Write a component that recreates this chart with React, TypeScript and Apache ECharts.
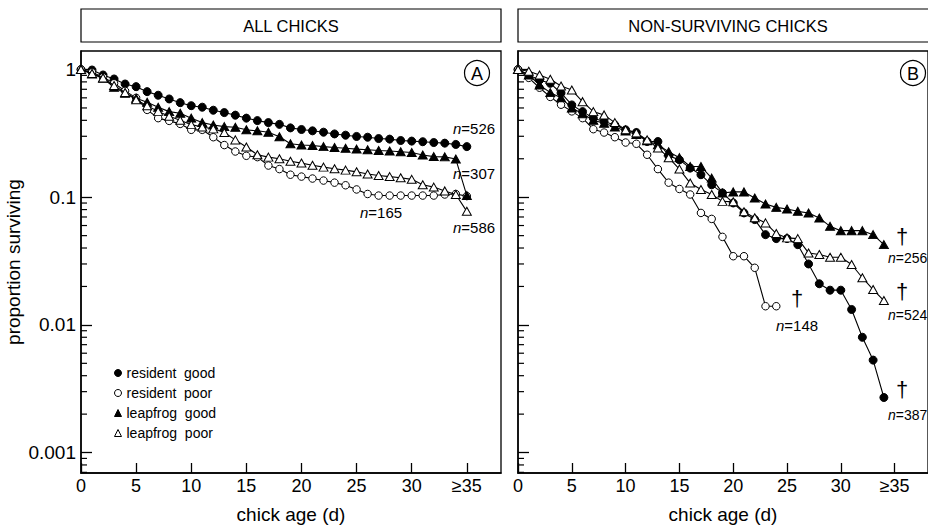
import React, { useEffect, useRef } from 'react';
import * as echarts from 'echarts';

// ---------- data ----------
const days = [0, 1, 2, 3, 4, 5, 6, 7, 8, 9, 10, 11, 12, 13, 14, 15, 16, 17, 18, 19, 20, 21, 22, 23, 24, 25, 26, 27, 28, 29, 30, 31, 32, 33, 34, 35];
const xTickValues = [0, 5, 10, 15, 20, 25, 30, 35];
const xTickLabels = ['0', '5', '10', '15', '20', '25', '30', '≥35'];
const yTickValues = [0.001, 0.01, 0.1, 1];
const yTickLabels = ['0.001', '0.01', '0.1', '1'];
const seriesNames = ['resident  good', 'resident  poor', 'leapfrog  good', 'leapfrog  poor'];

// Panel A: all chicks (proportion surviving, day 0 .. >=35)
const allResidentGood = [1.0, 0.991, 0.906, 0.843, 0.77, 0.734, 0.671, 0.629, 0.588, 0.55, 0.521, 0.507, 0.48, 0.46, 0.439, 0.416, 0.398, 0.384, 0.372, 0.349, 0.339, 0.331, 0.323, 0.313, 0.306, 0.299, 0.295, 0.288, 0.285, 0.278, 0.275, 0.272, 0.268, 0.265, 0.259, 0.249];
const allResidentPoor = [1.0, 0.95, 0.87, 0.78, 0.68, 0.6, 0.483, 0.416, 0.396, 0.375, 0.337, 0.337, 0.295, 0.256, 0.228, 0.211, 0.206, 0.177, 0.166, 0.15, 0.145, 0.14, 0.135, 0.13, 0.124, 0.115, 0.106, 0.103, 0.103, 0.103, 0.103, 0.103, 0.103, 0.105, 0.106, 0.102];
const allLeapfrogGood = [1.0, 0.922, 0.854, 0.726, 0.652, 0.596, 0.554, 0.507, 0.468, 0.455, 0.416, 0.384, 0.368, 0.357, 0.353, 0.337, 0.331, 0.323, 0.297, 0.262, 0.256, 0.254, 0.249, 0.245, 0.242, 0.238, 0.235, 0.232, 0.23, 0.227, 0.224, 0.214, 0.208, 0.207, 0.199, 0.103];
const allLeapfrogPoor = [1.0, 0.93, 0.86, 0.75, 0.66, 0.58, 0.52, 0.47, 0.43, 0.4, 0.37, 0.355, 0.343, 0.321, 0.281, 0.247, 0.215, 0.206, 0.2, 0.191, 0.185, 0.178, 0.172, 0.167, 0.163, 0.158, 0.152, 0.148, 0.145, 0.142, 0.138, 0.125, 0.12, 0.112, 0.105, 0.0775];

// Panel B: non-surviving chicks
const nsResidentGood = [1.0, 0.906, 0.828, 0.78, 0.655, 0.528, 0.468, 0.416, 0.391, 0.368, 0.337, 0.321, 0.273, 0.273, 0.211, 0.196, 0.169, 0.15, 0.125, 0.108, 0.0901, 0.0753, 0.0668, 0.0509, 0.0474, 0.0474, 0.0425, 0.03, 0.021, 0.0187, 0.0187, 0.0132, 0.008, 0.0053, 0.0027];
const nsResidentPoor = [1.0, 0.86, 0.72, 0.61, 0.53, 0.47, 0.416, 0.341, 0.321, 0.295, 0.268, 0.262, 0.215, 0.166, 0.13, 0.116, 0.105, 0.0753, 0.0676, 0.0489, 0.0345, 0.0345, 0.028, 0.014, 0.014];
const nsLeapfrogGood = [1.0, 0.906, 0.757, 0.659, 0.6, 0.5, 0.45, 0.4, 0.38, 0.355, 0.33, 0.31, 0.276, 0.257, 0.227, 0.204, 0.174, 0.174, 0.141, 0.108, 0.11, 0.11, 0.0986, 0.0885, 0.0832, 0.0809, 0.0775, 0.0753, 0.0688, 0.0591, 0.0547, 0.0547, 0.0547, 0.0509, 0.0425];
const nsLeapfrogPoor = [1.0, 0.97, 0.906, 0.838, 0.743, 0.691, 0.56, 0.468, 0.441, 0.384, 0.337, 0.319, 0.281, 0.243, 0.204, 0.166, 0.129, 0.115, 0.105, 0.0927, 0.092, 0.077, 0.069, 0.0629, 0.0519, 0.048, 0.0474, 0.0366, 0.0356, 0.0339, 0.0339, 0.0297, 0.0234, 0.0189, 0.0155];

// ---------- helpers ----------
const FONT = '"Liberation Sans", Arial, Helvetica, sans-serif';
const Y_MIN = -3.16;
const Y_MAX = 0.145;
const X_MAX = 38.1;

const lg = (v: number) => Math.log10(v);
const majorTicks = yTickValues.map(lg);
const minorTicks: number[] = [];
for (let k = -4; k <= 0; k++) {
  for (let m = 2; m <= 9; m++) {
    const t = k + Math.log10(m);
    if (t > Y_MIN && t < Y_MAX) minorTicks.push(t);
  }
}

const toPoints = (arr: number[]) => arr.map((v, i) => [days[i], lg(v)]);

const styles = [
  { symbol: 'circle', size: 8, fill: '#000' },
  { symbol: 'circle', size: 7.5, fill: '#fff' },
  { symbol: 'triangle', size: [9, 8], fill: '#000' },
  { symbol: 'triangle', size: [9, 8], fill: '#fff' },
];

const makeSeries = (arr: number[], idx: number, panel: number) => ({
  type: 'line',
  name: seriesNames[idx],
  xAxisIndex: panel,
  yAxisIndex: panel,
  data: toPoints(arr),
  symbol: styles[idx].symbol,
  symbolSize: styles[idx].size,
  showAllSymbol: true,
  lineStyle: { color: '#000', width: 1.1 },
  itemStyle: { color: styles[idx].fill, borderColor: '#000', borderWidth: 1 },
  emphasis: { disabled: true },
  z: 3 + idx,
});

// minor log ticks drawn through the y scale of each panel
const makeMinorTicks = (panel: number) => ({
  type: 'custom',
  name: 'minorTicks' + panel,
  xAxisIndex: panel,
  yAxisIndex: panel,
  silent: true,
  clip: false,
  data: minorTicks.map((t) => [0, t]),
  renderItem: (params: any, api: any) => {
    const p = api.coord([api.value(0), api.value(1)]);
    return {
      type: 'line',
      shape: { x1: p[0], y1: p[1], x2: p[0] + 6, y2: p[1] },
      style: { stroke: '#000', lineWidth: 1.2 },
    };
  },
  z: 2,
});

const fmtY = (v: number) => {
  const i = majorTicks.findIndex((t) => Math.abs(t - v) < 1e-6);
  return i >= 0 ? yTickLabels[i] : '';
};
const fmtX = (v: number) => {
  const i = xTickValues.indexOf(v);
  return i >= 0 ? xTickLabels[i] : '';
};

const makeXAxis = (gridIndex: number) => ({
  type: 'value',
  gridIndex,
  position: 'bottom',
  min: 0,
  max: X_MAX,
  axisLine: { show: true, onZero: false, lineStyle: { color: '#000', width: 1.5 } },
  axisTick: { show: true, inside: true, length: 10, customValues: xTickValues, lineStyle: { color: '#000', width: 1.3 } },
  axisLabel: { show: true, customValues: xTickValues, formatter: fmtX, color: '#000', fontSize: 18, fontFamily: FONT, margin: 4 },
  splitLine: { show: false },
  minorTick: { show: false },
  name: 'chick age (d)',
  nameLocation: 'middle',
  nameGap: 32,
  nameTextStyle: { color: '#000', fontSize: 19, fontFamily: FONT },
});

const makeYAxis = (gridIndex: number, withLabels: boolean) => ({
  type: 'value',
  gridIndex,
  position: 'left',
  min: Y_MIN,
  max: Y_MAX,
  axisLine: { show: true, onZero: false, lineStyle: { color: '#000', width: 1.5 } },
  axisTick: { show: true, inside: true, length: 11, customValues: majorTicks, lineStyle: { color: '#000', width: 1.3 } },
  axisLabel: { show: withLabels, customValues: majorTicks, formatter: fmtY, color: '#000', fontSize: 19, fontFamily: FONT, margin: 5 },
  splitLine: { show: false },
  minorTick: { show: false },
  name: withLabels ? 'proportion surviving' : '',
  nameLocation: 'middle',
  nameGap: 58,
  nameTextStyle: { color: '#000', fontSize: 19, fontFamily: FONT },
});

const nText = (num: string, x: number, y: number, align = 'center', size = 15) => ({
  type: 'text',
  x,
  y,
  style: {
    text: '{i|n}=' + num,
    fill: '#000',
    font: `${size}px ${FONT}`,
    align,
    verticalAlign: 'middle',
    rich: { i: { fontStyle: 'italic', fontSize: size, fontFamily: FONT, fill: '#000' } },
  },
  z: 20,
});

const dagger = (x: number, y: number) => ({
  type: 'text',
  x,
  y,
  style: { text: '†', fill: '#000', font: `22px ${FONT}`, align: 'center', verticalAlign: 'middle' },
  z: 20,
});

export default function App() {
  const ref = useRef<HTMLDivElement>(null);

  useEffect(() => {
    if (!ref.current) return;
    const chart = echarts.init(ref.current, null, { renderer: 'svg' });

    const option = {
      animation: false,
      backgroundColor: '#fff',
      textStyle: { fontFamily: FONT, color: '#000' },
      grid: [
        { left: 81, top: 51, width: 420, height: 423, show: true, borderColor: '#000', borderWidth: 1.3, backgroundColor: 'transparent', containLabel: false },
        { left: 518, top: 51, width: 420, height: 423, show: true, borderColor: '#000', borderWidth: 1.3, backgroundColor: 'transparent', containLabel: false },
      ],
      xAxis: [makeXAxis(0), makeXAxis(1)],
      yAxis: [makeYAxis(0, true), makeYAxis(1, false)],
      legend: {
        orient: 'vertical',
        left: 109,
        top: 361,
        itemWidth: 7,
        itemHeight: 7,
        itemGap: 6,
        selectedMode: false,
        textStyle: { fontSize: 14, color: '#000', fontFamily: FONT },
        data: [
          { name: seriesNames[0], icon: 'circle', itemStyle: { color: '#000', borderColor: '#000', borderWidth: 1 } },
          { name: seriesNames[1], icon: 'circle', itemStyle: { color: '#fff', borderColor: '#000', borderWidth: 1 } },
          { name: seriesNames[2], icon: 'triangle', itemStyle: { color: '#000', borderColor: '#000', borderWidth: 1 } },
          { name: seriesNames[3], icon: 'triangle', itemStyle: { color: '#fff', borderColor: '#000', borderWidth: 1 } },
        ],
      },
      series: [
        makeMinorTicks(0),
        makeMinorTicks(1),
        makeSeries(allResidentPoor, 1, 0),
        makeSeries(allLeapfrogPoor, 3, 0),
        makeSeries(allLeapfrogGood, 2, 0),
        makeSeries(allResidentGood, 0, 0),
        makeSeries(nsResidentPoor, 1, 1),
        makeSeries(nsLeapfrogPoor, 3, 1),
        makeSeries(nsLeapfrogGood, 2, 1),
        makeSeries(nsResidentGood, 0, 1),
      ],
      graphic: [
        { type: 'rect', shape: { x: 81, y: 9, width: 420, height: 33 }, style: { fill: '#fff', stroke: '#000', lineWidth: 1.2 } },
        { type: 'rect', shape: { x: 518, y: 9, width: 430, height: 33 }, style: { fill: '#fff', stroke: '#000', lineWidth: 1.2 } },
        { type: 'text', x: 291, y: 26, style: { text: 'ALL CHICKS', fill: '#000', font: `16.5px ${FONT}`, align: 'center', verticalAlign: 'middle' } },
        { type: 'text', x: 728, y: 26, style: { text: 'NON-SURVIVING CHICKS', fill: '#000', font: `16.5px ${FONT}`, align: 'center', verticalAlign: 'middle' } },
        { type: 'circle', shape: { cx: 477, cy: 73, r: 12.5 }, style: { fill: '#fff', stroke: '#000', lineWidth: 1.2 }, z: 20 },
        { type: 'text', x: 477, y: 74, style: { text: 'A', fill: '#000', font: `18px ${FONT}`, align: 'center', verticalAlign: 'middle' }, z: 21 },
        { type: 'circle', shape: { cx: 913, cy: 73, r: 12.5 }, style: { fill: '#fff', stroke: '#000', lineWidth: 1.2 }, z: 20 },
        { type: 'text', x: 913, y: 74, style: { text: 'B', fill: '#000', font: `18px ${FONT}`, align: 'center', verticalAlign: 'middle' }, z: 21 },
        nText('526', 474, 128),
        nText('307', 474, 173),
        nText('165', 381, 212),
        nText('586', 474, 227),
        dagger(797, 298),
        nText('148', 797, 325),
        dagger(902, 236),
        nText('256', 888, 258, 'left', 14),
        dagger(902, 291),
        nText('524', 888, 315, 'left', 14),
        dagger(902, 389),
        nText('387', 888, 415, 'left', 14),
      ],
    };

    chart.setOption(option as any);
    return () => chart.dispose();
  }, []);

  return <div ref={ref} style={{ position: 'fixed', left: 0, top: 0, width: 928, height: 529, background: '#fff' }} />;
}
